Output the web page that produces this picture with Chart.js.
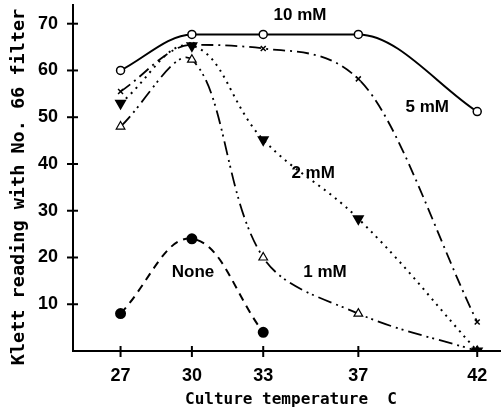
<!DOCTYPE html>
<html>
<head>
<meta charset="utf-8">
<script src="https://cdn.jsdelivr.net/npm/chart.js@4"></script>
<style>
  html, body { margin: 0; padding: 0; background: #fff; }
  #wrap { width: 501px; height: 410px; }
</style>
</head>
<body>
<div id="wrap"><canvas id="chart" width="501" height="410"></canvas></div>
<script>
// temperatures (C)
var temps = [27, 30, 33, 37, 42];
var yTickValues = [10, 20, 30, 40, 50, 60, 70];

// Klett readings per series
var mM10 = [60, 67.7, 67.7, 67.7, 51.2];
var mM5 = [55.5, 65.5, 64.7, 58.2, 6.2];
var mM2 = [53, 65.3, 45.2, 28.3, 0];
var mM1 = [48, 62.3, 20, 8, 0];
var none = [8, 24, 4];

// in-plot labels: text, x, y
var labelTexts = ['10 mM', '5 mM', '2 mM', '1 mM', 'None'];
var labelX = [34.55, 39.9, 35.1, 35.6, 30.05];
var labelY = [71.9, 52.2, 38.1, 16.9, 16.9];

var xTitle = 'Culture temperature  C';
var yTitle = 'Klett reading with No. 66 filter';

function pts(vals) {
    return vals.map(function (v, i) { return { x: temps[i], y: v } });
}

var tickFont = { family: 'Liberation Sans', weight: 'bold', size: 18 };

// tick marks crossing the axes, curve labels and axis titles
var extras = {
    id: 'extras',
    afterDraw: function (chart) {
        var ctx = chart.ctx;
        var xs = chart.scales.x, ys = chart.scales.y;
        var left = chart.chartArea.left, bottom = chart.chartArea.bottom;
        ctx.save();
        ctx.strokeStyle = '#000';
        ctx.lineWidth = 2;
        yTickValues.forEach(function (v) {
            var py = ys.getPixelForValue(v);
            ctx.beginPath();
            ctx.moveTo(left - 6, py);
            ctx.lineTo(left + 5, py);
            ctx.stroke();
        });
        temps.forEach(function (t) {
            var px = xs.getPixelForValue(t);
            ctx.beginPath();
            ctx.moveTo(px, bottom - 5);
            ctx.lineTo(px, bottom + 6);
            ctx.stroke();
        });
        ctx.fillStyle = '#000';
        ctx.font = 'bold 17px "Liberation Sans"';
        ctx.textAlign = 'center';
        ctx.textBaseline = 'middle';
        labelTexts.forEach(function (t, i) {
            ctx.fillText(t, xs.getPixelForValue(labelX[i]), ys.getPixelForValue(labelY[i]));
        });

        ctx.font = 'bold 16px "DejaVu Sans Mono"';
        ctx.fillText(xTitle, 291, 400);
        ctx.translate(19, 187);
        ctx.rotate(-Math.PI / 2);
        ctx.font = 'bold 18.5px "DejaVu Sans Mono"';
        ctx.fillText(yTitle, 0, 0);
        ctx.restore();
    }
};

new Chart(document.getElementById('chart'), {
    type: 'line',
    data: {
        datasets: [{
            label: '10 mM',
            data: pts(mM10),
            cubicInterpolationMode: 'monotone',
            borderColor: '#000',
            borderWidth: 2,
            pointStyle: 'circle',
            pointRadius: 4,
            pointBackgroundColor: '#fff',
            pointBorderColor: '#000',
            pointBorderWidth: 1.5
        }, {
            label: '5 mM',
            data: pts(mM5),
            cubicInterpolationMode: 'monotone',
            borderColor: '#000',
            borderWidth: 1.8,
            borderDash: [12, 5, 2, 5],
            pointStyle: 'crossRot',
            pointRadius: 3.5,
            pointBorderColor: '#000',
            pointBorderWidth: 1.5
        }, {
            label: '2 mM',
            data: pts(mM2),
            tension: 0.4,
            borderColor: '#000',
            borderWidth: 2,
            borderDash: [2, 5],
            pointStyle: 'triangle',
            rotation: 180,
            pointRadius: 5,
            pointBackgroundColor: '#000',
            pointBorderColor: '#000'
        }, {
            label: '1 mM',
            data: pts(mM1),
            tension: 0.35,
            borderColor: '#000',
            borderWidth: 1.8,
            borderDash: [14, 5, 2, 4, 2, 5],
            pointStyle: 'triangle',
            pointRadius: 5,
            pointBackgroundColor: '#fff',
            pointBorderColor: '#000',
            pointBorderWidth: 1.2
        }, {
            label: 'None',
            data: pts(none),
            tension: 0.4,
            borderColor: '#000',
            borderWidth: 2,
            borderDash: [8, 6],
            pointStyle: 'circle',
            pointRadius: 4.5,
            pointBackgroundColor: '#000',
            pointBorderColor: '#000'
        }]
    },
    options: {
        responsive: false,
        animation: false,
        layout: { autoPadding: false, padding: { top: 5, right: 0, left: 0, bottom: 0 } },
        elements: { line: { fill: false } },
        plugins: {
            legend: { display: false },
            tooltip: { enabled: false }
        },
        scales: {
            x: {
                type: 'linear',
                min: 25,
                max: 43,
                afterBuildTicks: function (scale) {
                    scale.ticks = temps.map(function (v) { return { value: v } });
                },
                afterFit: function (scale) {
                    scale.height = 59;
                    scale.paddingLeft = 0;
                    scale.paddingRight = 0;
                },
                grid: { display: false },
                border: { color: '#000', width: 2 },
                ticks: { color: '#000', font: tickFont, padding: 6, autoSkip: false, maxRotation: 0 }
            },
            y: {
                type: 'linear',
                min: 0,
                max: 74,
                afterBuildTicks: function (scale) {
                    scale.ticks = yTickValues.map(function (v) { return { value: v } });
                },
                afterFit: function (scale) {
                    scale.width = 73;
                    scale.paddingTop = 0;
                    scale.paddingBottom = 0;
                },
                grid: { display: false },
                border: { color: '#000', width: 2 },
                ticks: { color: '#000', font: tickFont, padding: 7 }
            }
        }
    },
    plugins: [extras]
});
</script>
</body>
</html>
